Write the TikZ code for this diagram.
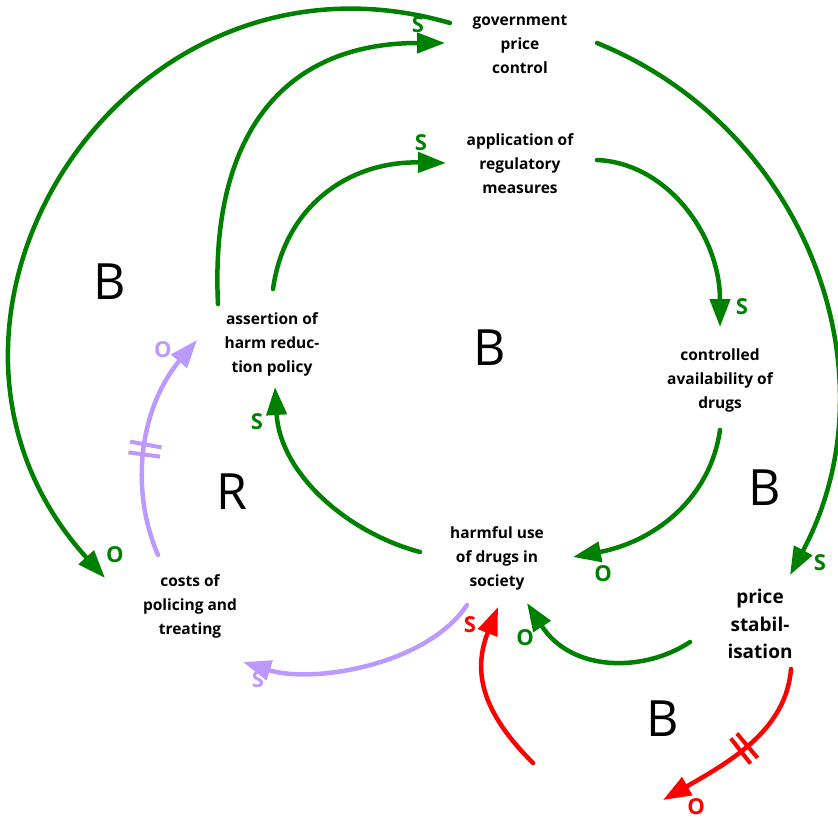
\documentclass[tikz,border=0pt]{standalone}
\usepackage{fontspec}
\setmainfont{Open Sans}
\usetikzlibrary{arrows.meta}

\definecolor{cldgreen}{RGB}{0,128,0}
\definecolor{cldpurple}{RGB}{187,153,255}
\definecolor{cldred}{RGB}{255,0,0}

\begin{document}
\begin{tikzpicture}[x=1pt,y=-1pt,
  var/.style={font=\bfseries\fontsize{15.5}{24}\selectfont, align=center, inner sep=0pt},
  link/.style={line width=4.5pt, line cap=round, -{Triangle[length=28pt,width=20pt]}},
  pol/.style={font=\bfseries\fontsize{22}{22}\selectfont, inner sep=0pt},
  loopname/.style={font=\fontsize{50}{50}\selectfont, inner sep=0pt},
  delaybar/.style={rectangle, sloped, draw=none, fill=#1, inner sep=0pt,
    minimum width=4pt, minimum height=32pt}
]
\useasboundingbox (0,0) rectangle (838,820);

% variables
\node[var] (gov) at (520,44) {government\\price\\control};
\node[var] (app) at (520,164) {application of\\regulatory\\measures};
\node[var] (assert) at (272,344) {assertion of\\harm reduc-\\tion policy};
\node[var] (ctrl) at (720,380) {controlled\\availability of\\drugs};
\node[var] (harm) at (497,558) {harmful use\\of drugs in\\society};
\node[var] (costs) at (190,606) {costs of\\policing and\\treating};
\node[var, font=\bfseries\fontsize{19}{27.5}\selectfont] (price) at (760,624) {price\\stabil-\\isation};

% free ends of the red links
\coordinate (redsrc) at (533,763);
\coordinate (redsink) at (663,800);

% green links
\draw[link, cldgreen] ([shift={(-70,-21)}]gov.center) .. controls +(-329,-95) and +(-230,-253) .. ([shift={(-85,-28)}]costs.center);
\draw[link, cldgreen] ([shift={(-54,-40)}]assert.center) .. controls +(-8,-165) and +(-165,0) .. ([shift={(-75,-1)}]gov.center);
\draw[link, cldgreen] ([shift={(1,-55)}]assert.center) .. controls +(12,-85) and +(-95,-2) .. ([shift={(-74,-1)}]app.center);
\draw[link, cldgreen] ([shift={(77,-1)}]gov.center) .. controls +(210,85) and +(107,-200) .. ([shift={(30,-49)}]price.center);
\draw[link, cldgreen] ([shift={(77,-4)}]app.center) .. controls +(70,3) and +(0,-92) .. ([shift={(0,-53)}]ctrl.center);
\draw[link, cldgreen] ([shift={(0,50)}]ctrl.center) .. controls +(-10,70) and +(80,-15) .. ([shift={(76,-1)}]harm.center);
\draw[link, cldgreen] ([shift={(-77,-6)}]harm.center) .. controls +(-75,-20) and +(5,85) .. ([shift={(3,43)}]assert.center);
\draw[link, cldgreen] ([shift={(-70,18)}]price.center) .. controls +(-45,30) and +(45,70) .. ([shift={(30,45)}]harm.center);

% purple links (the second one carries a delay mark)
\draw[link, cldpurple] ([shift={(-30,47)}]harm.center) .. controls +(-40,60) and +(70,22) .. ([shift={(53,56)}]costs.center);
\draw[link, cldpurple] ([shift={(-32,-51)}]costs.center) .. controls +(-30,-70) and +(-55,65) .. ([shift={(-75,-4)}]assert.center)
  node[delaybar=cldpurple, pos=0.46] (dl1a) {} node[delaybar=cldpurple, pos=0.505] (dl1b) {};

% red links (the second one carries a delay mark)
\draw[link, cldred] (redsrc) .. controls +(-45,-45) and +(-28,70) .. ([shift={(1,49)}]harm.center);
\draw[link, cldred] ([shift={(31,45)}]price.center) .. controls +(-5,60) and +(70,-40) .. (redsink)
  node[delaybar=cldred, pos=0.53] (dl2a) {} node[delaybar=cldred, pos=0.575] (dl2b) {};

% polarities
\node[pol, cldgreen] (s1) at (418,25) {S};
\node[pol, cldgreen] (s2) at (421,143) {S};
\node[pol, cldgreen] (s3) at (742,307) {S};
\node[pol, cldgreen] (o1) at (603,574) {O};
\node[pol, cldgreen] (s4) at (257,422) {S};
\node[pol, cldgreen] (o2) at (525,638) {O};
\node[pol, cldgreen] (s5) at (820,563) {S};
\node[pol, cldgreen] (o3) at (115,555) {O};
\node[pol, cldpurple] (o4) at (163,350) {O};
\node[pol, cldpurple] (s6) at (258,680) {S};
\node[pol, cldred] (s7) at (470,625) {S};
\node[pol, cldred] (o5) at (696,807) {O};

% loop names
\node[loopname] (l1) at (110,282) {B};
\node[loopname] (l2) at (490,348) {B};
\node[loopname] (l3) at (232,492) {R};
\node[loopname] (l4) at (765,488) {B};
\node[loopname] (l5) at (663,719) {B};
\end{tikzpicture}
\end{document}
